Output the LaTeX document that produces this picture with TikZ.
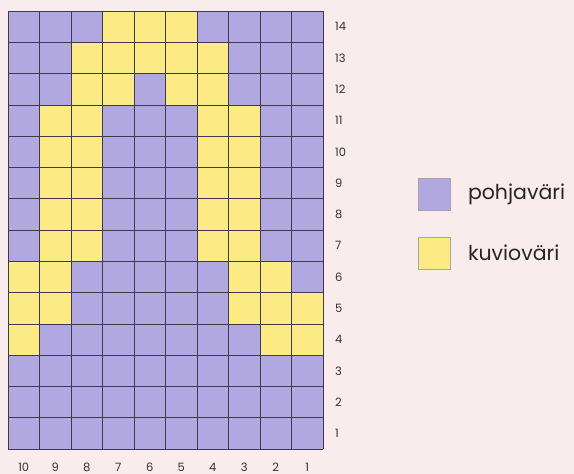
\documentclass[tikz,border=0pt]{standalone}
\usepackage{fontspec}
\setmainfont{Poppins}
\usetikzlibrary{positioning}
\definecolor{bgpink}{HTML}{F9ECEC}
\definecolor{pohja}{HTML}{B1A8E1}
\definecolor{kuvio}{HTML}{FCEB85}
\definecolor{ruutuviiva}{HTML}{3C3A4C}
\tikzset{
    ruutu/.style={draw=ruutuviiva, line width=0.7pt}, % cell borders
    numero/.style={font=\fontsize{11.5}{13}\selectfont, text=black!80},
    selite/.style={draw=gray!70, line width=0.6pt, minimum size=32pt, inner sep=0pt},
    selteksti/.style={font=\fontsize{20.5}{24}\selectfont, text=black!85, anchor=west, inner sep=1pt}
}

\begin{document}
\begin{tikzpicture}[x=1pt, y=-1pt]
    \fill[bgpink] (0,0) rectangle (574,474);
    \useasboundingbox (0,0) rectangle (574,474);

    % pohja
    \fill[pohja] (8,11) rectangle (323,449);
    % kuvio, sarake vasemmalta / rivin numero
    \foreach \c/\r in {4/14,5/14,6/14,
                      3/13,4/13,5/13,6/13,7/13,
                      3/12,4/12,6/12,7/12,
                      2/11,3/11,7/11,8/11, 2/10,3/10,7/10,8/10,
                      2/9,3/9,7/9,8/9, 2/8,3/8,7/8,8/8, 2/7,3/7,7/7,8/7,
                      1/6,2/6,8/6,9/6,
                      1/5,2/5,8/5,9/5,10/5,
                      1/4,9/4,10/4}
        \fill[kuvio] ({8+(\c-1)*31.5},{11+(14-\r)*31.286}) rectangle ++(31.5,31.286);

    % ruudukko
    \foreach \i in {0,...,10}
        \draw[ruutu] ({8+\i*31.5},11) -- ({8+\i*31.5},449);
    \foreach \j in {0,...,14}
        \draw[ruutu] (8,{11+\j*31.286}) -- (323,{11+\j*31.286});

    % numerot
    \foreach \r in {1,...,14}
        \node[numero, anchor=west, inner sep=0pt] (rivi\r) at (335,{11+(14.5-\r)*31.286}) {\r};
    \foreach \c in {1,...,10}
        \node[numero] (sarake\c) at ({8+(10.5-\c)*31.5},467) {\c};

    % selitteet
    \node[selite, fill=pohja] (pohjaruutu) at (434.5,194.5) {};
    \node[selite, fill=kuvio] (kuvioruutu) [below=26pt of pohjaruutu] {};
    \node[selteksti] (pohjateksti) [right=16pt of pohjaruutu] {pohjaväri};
    \node[selteksti] (kuvioteksti) [right=16pt of kuvioruutu] {kuvioväri};
\end{tikzpicture}
\end{document}
